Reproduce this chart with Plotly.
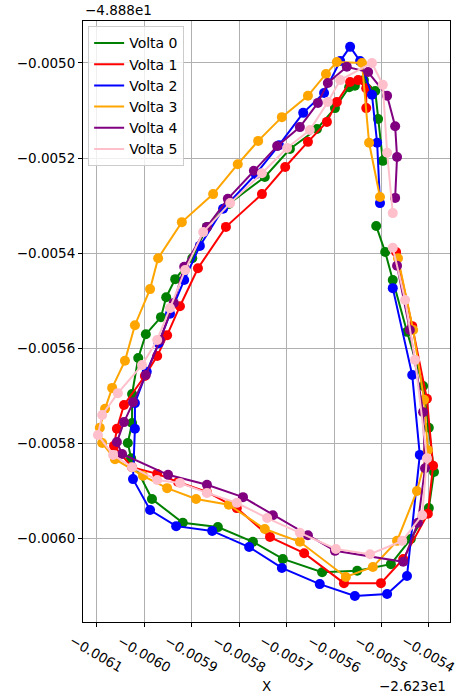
import plotly.graph_objects as go

# Values shown relative to offsets (x offset -2.623e1, y offset -4.888e1)
X_OFFSET_TEXT = "\u22122.623e1"
Y_OFFSET_TEXT = "\u22124.888e1"

labels = ["Volta 0", "Volta 1", "Volta 2", "Volta 3", "Volta 4", "Volta 5"]
colors = ["green", "red", "blue", "orange", "purple", "pink"]

x0 = [-55.11e-4, -54.92e-4, -54.76e-4, -54.46e-4, -54.12e-4, -54.00e-4, -53.89e-4, -54.00e-4, -54.38e-4, -54.80e-4,
      -55.51e-4, -56.25e-4, -57.08e-4, -57.71e-4, -58.45e-4, -59.19e-4, -59.84e-4, -60.28e-4, -60.35e-4, -60.26e-4,
      -60.26e-4, -60.13e-4, -59.97e-4, -59.65e-4, -59.54e-4, -59.35e-4, -58.99e-4, -58.68e-4, -58.22e-4, -57.46e-4,
      -56.93e-4, -56.36e-4, -55.98e-4, -55.68e-4, -55.56e-4, -55.37e-4, -55.13e-4, -55.07e-4, -54.97e-4]
y0 = [-53.43e-4, -53.98e-4, -54.57e-4, -55.66e-4, -56.80e-4, -57.68e-4, -58.61e-4, -59.37e-4, -60.02e-4, -60.55e-4,
      -60.69e-4, -60.72e-4, -60.44e-4, -60.08e-4, -59.77e-4, -59.68e-4, -59.18e-4, -58.32e-4, -58.00e-4, -57.58e-4,
      -56.97e-4, -56.21e-4, -55.71e-4, -55.35e-4, -54.93e-4, -54.55e-4, -54.11e-4, -53.45e-4, -52.97e-4, -52.40e-4,
      -51.81e-4, -51.39e-4, -50.95e-4, -50.51e-4, -50.48e-4, -50.36e-4, -50.59e-4, -51.18e-4, -52.06e-4]

x1 = [-54.69e-4, -54.35e-4, -54.04e-4, -53.91e-4, -54.02e-4, -54.54e-4, -55.01e-4, -55.79e-4, -56.63e-4, -57.35e-4,
      -58.05e-4, -58.68e-4, -59.29e-4, -59.73e-4, -60.26e-4, -60.64e-4, -60.58e-4, -60.43e-4, -59.99e-4, -59.73e-4,
      -59.52e-4, -59.25e-4, -58.87e-4, -58.28e-4, -57.52e-4, -57.03e-4, -56.55e-4, -56.15e-4, -55.94e-4, -55.66e-4,
      -55.49e-4, -55.32e-4, -55.32e-4]
y1 = [-53.98e-4, -55.54e-4, -57.07e-4, -58.48e-4, -59.49e-4, -60.44e-4, -60.95e-4, -60.95e-4, -60.32e-4, -59.98e-4,
      -59.37e-4, -59.03e-4, -58.82e-4, -58.65e-4, -58.51e-4, -58.06e-4, -57.70e-4, -57.20e-4, -56.59e-4, -56.17e-4,
      -55.73e-4, -55.12e-4, -54.32e-4, -53.45e-4, -52.76e-4, -52.19e-4, -51.66e-4, -51.24e-4, -50.82e-4, -50.40e-4,
      -50.36e-4, -50.53e-4, -50.95e-4]

x2 = [-54.76e-4, -54.35e-4, -54.19e-4, -54.46e-4, -54.88e-4, -55.56e-4, -56.30e-4, -57.10e-4, -57.79e-4, -58.57e-4,
      -59.33e-4, -59.88e-4, -60.24e-4, -60.20e-4, -60.20e-4, -59.95e-4, -59.70e-4, -59.46e-4, -59.16e-4, -58.83e-4,
      -58.34e-4, -57.65e-4, -57.16e-4, -56.65e-4, -56.21e-4, -55.87e-4, -55.66e-4, -55.45e-4, -55.20e-4, -55.09e-4,
      -55.03e-4]
y2 = [-54.74e-4, -56.57e-4, -58.25e-4, -60.80e-4, -61.18e-4, -61.22e-4, -60.97e-4, -60.63e-4, -60.19e-4, -59.85e-4,
      -59.75e-4, -59.41e-4, -58.76e-4, -57.70e-4, -57.16e-4, -56.50e-4, -55.90e-4, -55.28e-4, -54.57e-4, -53.85e-4,
      -53.07e-4, -52.34e-4, -51.73e-4, -51.05e-4, -50.63e-4, -49.96e-4, -49.66e-4, -49.96e-4, -50.67e-4, -51.68e-4,
      -52.95e-4]

x3 = [-54.65e-4, -54.33e-4, -54.10e-4, -54.02e-4, -54.25e-4, -54.67e-4, -55.18e-4, -55.75e-4, -56.72e-4, -57.46e-4,
      -58.22e-4, -58.91e-4, -59.52e-4, -60.03e-4, -60.62e-4, -60.89e-4, -60.94e-4, -60.83e-4, -60.68e-4, -60.41e-4,
      -60.20e-4, -59.88e-4, -59.71e-4, -59.21e-4, -58.55e-4, -58.03e-4, -57.60e-4, -57.10e-4, -56.55e-4, -56.17e-4,
      -55.94e-4, -55.41e-4, -55.26e-4, -55.03e-4]
y3 = [-54.11e-4, -55.62e-4, -57.09e-4, -58.15e-4, -59.01e-4, -60.06e-4, -60.61e-4, -60.82e-4, -60.08e-4, -59.81e-4,
      -59.30e-4, -59.18e-4, -58.95e-4, -58.69e-4, -58.34e-4, -58.00e-4, -57.68e-4, -57.28e-4, -56.84e-4, -56.27e-4,
      -55.52e-4, -54.76e-4, -54.11e-4, -53.35e-4, -52.76e-4, -52.13e-4, -51.64e-4, -51.14e-4, -50.69e-4, -50.23e-4,
      -49.98e-4, -50.00e-4, -51.68e-4, -52.82e-4]

x4 = [-54.67e-4, -54.40e-4, -54.12e-4, -54.08e-4, -54.23e-4, -54.54e-4, -55.98e-4, -56.55e-4, -57.29e-4, -57.92e-4,
      -58.68e-4, -59.50e-4, -60.47e-4, -60.58e-4, -60.43e-4, -60.24e-4, -59.97e-4, -59.67e-4, -59.38e-4, -59.16e-4,
      -58.68e-4, -58.24e-4, -57.69e-4, -57.20e-4, -56.72e-4, -56.34e-4, -56.13e-4, -55.73e-4, -55.28e-4, -54.88e-4,
      -54.71e-4, -54.67e-4, -54.71e-4]
y4 = [-54.27e-4, -55.62e-4, -57.35e-4, -58.53e-4, -59.68e-4, -60.50e-4, -60.27e-4, -59.94e-4, -59.52e-4, -59.14e-4,
      -58.88e-4, -58.67e-4, -58.23e-4, -57.98e-4, -57.56e-4, -57.14e-4, -56.57e-4, -55.83e-4, -55.05e-4, -54.29e-4,
      -53.45e-4, -52.86e-4, -52.27e-4, -51.75e-4, -51.35e-4, -50.84e-4, -50.42e-4, -50.08e-4, -50.19e-4, -50.69e-4,
      -51.33e-4, -51.98e-4, -52.84e-4]

x5 = [-54.76e-4, -54.50e-4, -54.29e-4, -54.04e-4, -54.14e-4, -54.56e-4, -55.24e-4, -55.96e-4, -56.72e-4, -57.41e-4,
      -58.05e-4, -58.68e-4, -59.25e-4, -59.73e-4, -60.26e-4, -60.66e-4, -60.98e-4, -60.89e-4, -60.56e-4, -60.05e-4,
      -59.73e-4, -59.46e-4, -59.14e-4, -58.76e-4, -58.19e-4, -57.52e-4, -56.99e-4, -56.51e-4, -56.13e-4, -55.87e-4,
      -55.20e-4, -54.97e-4, -54.88e-4, -54.76e-4]
y5 = [-53.89e-4, -54.99e-4, -56.25e-4, -58.32e-4, -59.52e-4, -60.06e-4, -60.34e-4, -60.23e-4, -59.89e-4, -59.58e-4,
      -59.26e-4, -59.05e-4, -58.84e-4, -58.78e-4, -58.51e-4, -58.25e-4, -57.83e-4, -57.41e-4, -56.95e-4, -56.36e-4,
      -55.83e-4, -55.16e-4, -54.36e-4, -53.56e-4, -52.95e-4, -52.32e-4, -51.79e-4, -51.41e-4, -50.82e-4, -50.36e-4,
      -50.00e-4, -50.46e-4, -51.89e-4, -53.16e-4]

xs = [x0, x1, x2, x3, x4, x5]
ys = [y0, y1, y2, y3, y4, y5]

x_ticks = [-61e-4, -60e-4, -59e-4, -58e-4, -57e-4, -56e-4, -55e-4, -54e-4]
x_ticktext = ["\u22120.0061", "\u22120.0060", "\u22120.0059", "\u22120.0058",
              "\u22120.0057", "\u22120.0056", "\u22120.0055", "\u22120.0054"]
y_ticks = [-50e-4, -52e-4, -54e-4, -56e-4, -58e-4, -60e-4]
y_ticktext = ["\u22120.0050", "\u22120.0052", "\u22120.0054", "\u22120.0056", "\u22120.0058", "\u22120.0060"]

FONT = "DejaVu Sans"
FS = 13.5

fig = go.Figure()
for lab, col, xv, yv in zip(labels, colors, xs, ys):
    fig.add_trace(go.Scatter(x=xv, y=yv, mode="lines", name=lab, legendgroup=lab,
                             line=dict(color=col, width=2)))
    fig.add_trace(go.Scatter(x=xv, y=yv, mode="markers", legendgroup=lab, showlegend=False,
                             marker=dict(color=col, size=10, line=dict(width=0))))

annotations = []
for tv, tt in zip(x_ticks, x_ticktext):
    annotations.append(dict(x=tv, xref="x", y=0, yref="paper", yshift=-32, text=tt, textangle=30,
                            showarrow=False, xanchor="center", yanchor="middle",
                            font=dict(family=FONT, size=FS, color="black")))
annotations.append(dict(x=0.5, xref="paper", y=0, yref="paper", yshift=-64, text="X", showarrow=False,
                        xanchor="center", yanchor="middle", font=dict(family=FONT, size=FS, color="black")))
annotations.append(dict(x=1, xref="paper", y=0, yref="paper", yshift=-64, xshift=-2, text=X_OFFSET_TEXT,
                        showarrow=False, xanchor="right", yanchor="middle",
                        font=dict(family=FONT, size=FS, color="black")))
annotations.append(dict(x=0, xref="paper", y=1, yref="paper", yshift=1, text=Y_OFFSET_TEXT,
                        showarrow=False, xanchor="left", yanchor="bottom",
                        font=dict(family=FONT, size=FS, color="black")))

fig.update_layout(
    width=456, height=696,
    margin=dict(l=83, r=6, t=21, b=74),
    paper_bgcolor="white", plot_bgcolor="white",
    font=dict(family=FONT, size=FS, color="black"),
    showlegend=True,
    legend=dict(x=0.014, y=0.991, xanchor="left", yanchor="top",
                bgcolor="rgba(255,255,255,0.8)", bordercolor="#cccccc", borderwidth=1,
                font=dict(family=FONT, size=14), tracegroupgap=0, itemwidth=30),
    annotations=annotations,
    xaxis=dict(range=[-61.295e-4, -53.553e-4], tickvals=x_ticks, showticklabels=False, automargin=False,
               ticks="outside", ticklen=4, tickcolor="black", tickwidth=1,
               showgrid=True, gridcolor="#b0b0b0", gridwidth=1, zeroline=False,
               showline=True, linecolor="black", linewidth=1, mirror=True),
    yaxis=dict(range=[-61.768e-4, -49.116e-4], tickvals=y_ticks, ticktext=y_ticktext, automargin=False,
               ticks="outside", ticklen=4, tickcolor="black", tickwidth=1,
               showgrid=True, gridcolor="#b0b0b0", gridwidth=1, zeroline=False,
               showline=True, linecolor="black", linewidth=1, mirror=True,
               tickfont=dict(family=FONT, size=FS, color="black")),
)

fig.write_html("out.html", config={"displayModeBar": False},
               post_script="document.body.style.margin='0';document.body.style.overflow='hidden';")
